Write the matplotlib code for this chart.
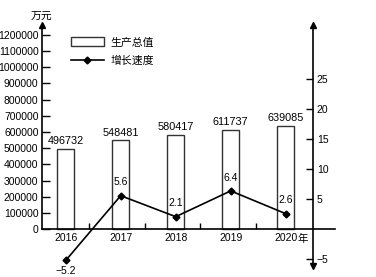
import matplotlib
matplotlib.use('Agg')
import matplotlib.pyplot as plt
from matplotlib.patches import Patch
from matplotlib.lines import Line2D

plt.rcParams['font.family'] = ['Liberation Sans', 'Noto Sans CJK SC']
plt.rcParams['axes.unicode_minus'] = True

# 数据
years = ['2016', '2017', '2018', '2019', '2020']
output = [496732, 548481, 580417, 611737, 639085]   # 生产总值 (万元)
growth = [-5.2, 5.6, 2.1, 6.4, 2.6]                # 增长速度 (%)
left_ticks = list(range(0, 1200001, 100000))
right_ticks = [-5, 5, 10, 15, 20, 25]

fig = plt.figure(figsize=(3.76, 2.77), dpi=100)
ax = fig.add_axes([0.1117, 0.0397, 0.7793, 0.87])
x = list(range(len(years)))

# 柱状图
ax.bar(x, output, width=0.30, color='white', edgecolor='#333333', linewidth=1.0, zorder=2)
for xi, v in zip(x, output):
    ax.annotate(str(v), (xi, v), xytext=(0, 2), textcoords='offset points',
                ha='center', va='bottom', fontsize=7.8)

ax.set_xlim(-0.431, 4.896)
ax.set_ylim(-226310, 1259815)
ax.spines['top'].set_visible(False)
ax.spines['right'].set_visible(False)
ax.spines['bottom'].set_position(('data', 0))
ax.spines['left'].set_bounds(0, 1259815)
for s in ('left', 'bottom'):
    ax.spines[s].set_linewidth(1.2)

ax.set_yticks(left_ticks)
ax.set_yticklabels([str(t) for t in left_ticks])
ax.tick_params(axis='y', direction='in', length=6, width=1.0, pad=2.5, labelsize=7.5)
ax.set_xticks(x)
ax.set_xticklabels(years)
ax.set_xticks([0.42, 1.44, 2.45, 3.46], minor=True)
ax.tick_params(axis='x', which='major', length=0, pad=3, labelsize=7.5)
ax.tick_params(axis='x', which='minor', direction='in', length=4, width=1.0)
ax.annotate('年', (4, 0), xytext=(8.5, -7), textcoords='offset points',
            ha='left', va='center', fontsize=7.5)
ax.annotate('万元', (0, 1), xycoords='axes fraction', xytext=(0, 3),
            textcoords='offset points', ha='center', va='bottom', fontsize=7.8)
ax.plot([0], [1], marker='^', color='k', ms=5, transform=ax.transAxes, clip_on=False)

# 折线图 (右轴)
ax2 = ax.twinx()
ax2.set_ylim(-6.12, 34.05)
ax2.plot(x, growth, color='k', lw=1.2, marker='D', ms=3.5, zorder=3)
for xi, g in zip(x, growth):
    lab = ('−%.1f' % abs(g)) if g < 0 else '%.1f' % g
    off = -4 if g < 0 else 6
    ax2.annotate(lab, (xi, g), xytext=(0, off), textcoords='offset points',
                 ha='center', va='top' if g < 0 else 'bottom', fontsize=7.5)

for s in ('top', 'left', 'bottom'):
    ax2.spines[s].set_visible(False)
ax2.spines['right'].set_position(('data', 4.49))
ax2.spines['right'].set_linewidth(1.2)
ax2.set_yticks(right_ticks)
ax2.tick_params(axis='y', direction='in', length=5, width=1.0, pad=3, labelsize=7.5)
ax2.plot([4.49], [34.05], marker='^', color='k', ms=5, clip_on=False)
ax2.plot([4.49], [-6.12], marker='v', color='k', ms=5, clip_on=False)

# 图例
handles = [Patch(facecolor='white', edgecolor='#333333', linewidth=1.0),
           Line2D([], [], color='k', lw=1.2, marker='D', ms=3.5)]
fig.legend(handles, ['生产总值', '增长速度'], loc='upper left',
           bbox_to_anchor=(0.189, 0.866), frameon=False, fontsize=7.8,
           handlelength=3.0, handleheight=0.95, handletextpad=0.6,
           labelspacing=0.75, borderpad=0, borderaxespad=0)

fig.savefig('out.png', dpi=100)
